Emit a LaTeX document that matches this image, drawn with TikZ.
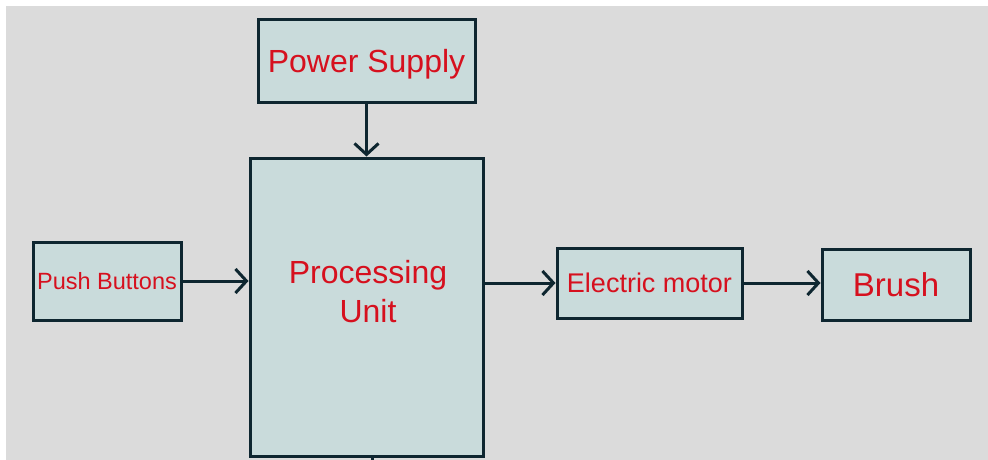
\documentclass[tikz,border=0pt]{standalone}
\usepackage{fontspec}
\setmainfont{Liberation Sans}
\definecolor{bgSlide}{HTML}{DBDBDB}
\definecolor{boxFill}{HTML}{C9DBDB}
\definecolor{lineDark}{HTML}{0E2630}
\definecolor{textRed}{HTML}{D6101E}
\usetikzlibrary{arrows.meta, positioning}
\tikzset{
  block/.style={draw=lineDark, fill=boxFill, line width=3pt, inner sep=0pt,
                text=textRed, align=center},
  flow/.style={draw=lineDark, line width=3pt,
               -{Straight Barb[length=11pt, width=24pt, line width=3pt]}}
}

\begin{document}
\begin{tikzpicture}[x=1pt, y=-1pt]
  \useasboundingbox (0,0) rectangle (988,460);
  \fill[white] (0,0) rectangle (988,460);
  \fill[bgSlide] (6,6) rectangle (988,460);

  % blocks
  \node[block, minimum width=217pt, minimum height=82pt, text depth=0pt,
        font=\fontsize{32}{38}\selectfont] (power) at (366.5,61) {Power Supply};
  \node[block, minimum width=233pt, minimum height=298pt] (pu) at (366.5,307) {};
  \node[text=textRed, align=center, font=\fontsize{32}{39}\selectfont]
        (putext) at (368,292) {Processing\\Unit};
  \node[block, minimum width=148pt, minimum height=78pt,
        font=\fontsize{23.5}{28}\selectfont] (push) at (107,281) {Push Buttons};
  \node[block, minimum width=185pt, minimum height=70pt,
        font=\fontsize{27}{32}\selectfont] (motor) at (649.5,283) {Electric motor};
  \node[block, minimum width=148pt, minimum height=71pt,
        font=\fontsize{33}{40}\selectfont] (brush) at (896,284.5) {Brush};
  \coordinate (down) at (372,475);

  % connectors
  \draw[flow] (power.south) -- (power.south |- pu.north);
  \draw[flow] (push.east) -- (push.east -| pu.west);
  \draw[flow] (pu.east |- motor.west) -- (motor.west);
  \draw[flow] (motor.east) -- (motor.east -| brush.west);
  \draw[draw=lineDark, line width=3pt] (down |- pu.south) -- (down);
\end{tikzpicture}
\end{document}
